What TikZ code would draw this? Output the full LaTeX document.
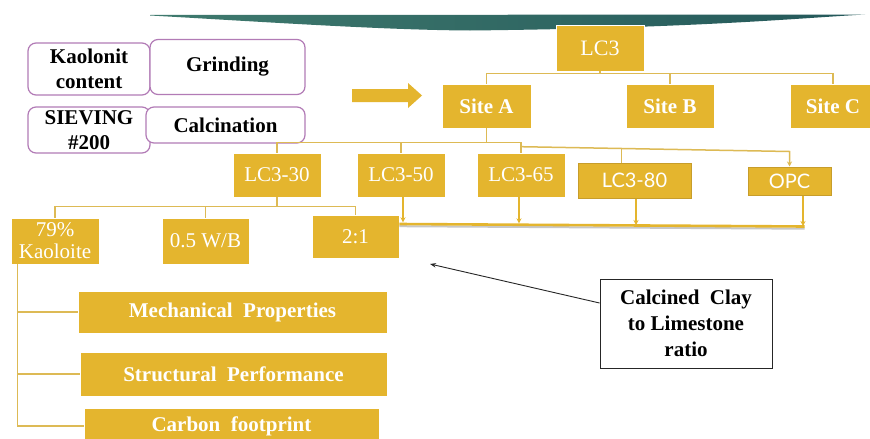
\documentclass[tikz,border=0pt]{standalone}
\usepackage{fontspec}
\setmainfont{Liberation Serif}
\newfontfamily\gillf{Lato}
\usetikzlibrary{calc,arrows.meta}
\definecolor{gold}{HTML}{E4B52E}
\definecolor{goldline}{HTML}{DDBA55}
\definecolor{goldborder}{HTML}{C79D2B}
\definecolor{tealL}{HTML}{3F7A6E}
\definecolor{tealD}{HTML}{24585A}
\definecolor{purp}{HTML}{B27BB6}
\tikzset{
  ybox/.style={fill=gold, draw=white, line width=0.6pt, text=white, inner sep=0pt, align=center, font=\fontsize{21}{22}\selectfont},
  ybold/.style={ybox, font=\bfseries\fontsize{21}{22}\selectfont},
  ysans/.style={ybox, draw=goldborder, line width=1pt, font=\gillf\fontsize{20}{22}\selectfont},
  pbox/.style={rounded corners=8pt, draw=purp, line width=1.2pt, fill=white, inner sep=0pt, align=center, font=\bfseries\fontsize{21}{25}\selectfont},
  conn/.style={draw=goldline, line width=1.5pt},
  carr/.style={draw=gold, line width=1.1pt, -{Stealth[length=5pt,width=5pt]}},
  callbox/.style={draw=black!85, line width=0.9pt, fill=white, inner sep=0pt, align=center, font=\bfseries\fontsize{21}{26}\selectfont}
}
\begin{document}
\begin{tikzpicture}[x=1pt,y=-1pt]
\useasboundingbox (0,0) rectangle (870,439);
\fill[white] (0,0) rectangle (870,439);
% swoosh
\shade[left color=tealL, right color=tealD] (150,15) -- (865,14.5)
  .. controls (800,18) and (700,28) .. (470,30.5)
  .. controls (380,30) and (250,21) .. (150,15.5) -- cycle;
% left purple boxes
\node[pbox, minimum width=122pt, minimum height=52pt] (kc) at (89,69) {Kaolonit\\content};
\node[pbox, minimum width=155pt, minimum height=55pt] (grind) at (227.5,67) {Grinding};
\node[pbox, minimum width=122pt, minimum height=46pt] (siev) at (89,130) {SIEVING\\\#200};
\node[pbox, minimum width=159pt, minimum height=36pt] (calc) at (225.5,125) {Calcination};
% block arrow
\fill[gold] (352,89) -- (408,89) -- (408,83) -- (422,95.5) -- (408,108) -- (408,102) -- (352,102) -- cycle;
% tree nodes
\node[ybox, minimum width=88pt, minimum height=46pt, font=\fontsize{22}{24}\selectfont] (lc3) at (600,48) {LC3};
\node[ybold, minimum width=89pt, minimum height=44pt] (siteA) at (486.5,106) {Site A};
\node[ybold, minimum width=88pt, minimum height=44pt] (siteB) at (670,106) {Site B};
\node[ybold, minimum width=86pt, minimum height=44pt] (siteC) at (833,106) {Site C};
\node[ybox, minimum width=88pt, minimum height=44pt] (lc330) at (277,175) {LC3-30};
\node[ybox, minimum width=88pt, minimum height=44pt] (lc350) at (401,175) {LC3-50};
\node[ybox, minimum width=88pt, minimum height=44pt] (lc365) at (521,175) {LC3-65};
\node[ysans, minimum width=113pt, minimum height=35pt] (lc380) at (634.5,180.5) {LC3-80};
\node[ysans, minimum width=83pt, minimum height=28pt] (opc) at (789.5,181) {OPC};
\node[ybox, minimum width=88pt, minimum height=46pt] (kao) at (55,241) {79\%\\Kaoloite};
\node[ybox, minimum width=87pt, minimum height=46pt] (wb) at (205.5,241) {0.5 W/B};
\node[ybox, minimum width=87pt, minimum height=43pt] (r21) at (355.5,236.5) {2:1};
\node[ybold, minimum width=309pt, minimum height=42pt] (mech) at (232.5,312) {Mechanical\ \ Properties};
\node[ybold, minimum width=307pt, minimum height=44pt] (struct) at (233.5,374) {Structural\ \ Performance};
\node[ybold, minimum width=295pt, minimum height=36pt] (carbon) at (231.5,426) {Carbon\ \ footprint};
\node[callbox, minimum width=172pt, minimum height=89pt] (callout) at (686,323.5) {Calcined\ \ Clay\\to Limestone\\ratio};
% connectors LC3 -> sites
\draw[conn] (lc3.south) |- ($(siteA.north)+(0,-10)$) -- (siteA.north);
\draw[conn] (lc3.south) |- ($(siteB.north)+(0,-10)$) -- (siteB.north);
\draw[conn] (lc3.south) |- ($(siteC.north)+(0,-10)$) -- (siteC.north);
% Site A -> mixes
\draw[conn] (siteA.south) |- ($(lc330.north)+(0,-10)$) -- (lc330.north);
\draw[conn] (siteA.south) |- ($(lc350.north)+(0,-10)$) -- (lc350.north);
\draw[conn] (siteA.south) |- ($(lc365.north)+(0,-10)$) -- (lc365.north);
\draw[conn, -{Stealth[length=5pt,width=5pt]}] ($(lc365.north)+(0,-6)$) -- ($(opc.north)+(0,-15)$) -- (opc.north);
\draw[conn] ($(lc380.north)+(-13,0)$) -- ++(0,-14.5);
% bottom bar
\draw[black!22, line width=2pt] ($(r21.east)+(0,-10.3)$) -- ($(opc.south)+(15,33.2)$);
\draw[gold, line width=2.6pt] ($(r21.east)+(0,-12.5)$) -- ($(opc.south)+(15,31)$);
\draw[carr] ($(lc350.south)+(2,0)$) -- ++(0,25);
\draw[carr] ($(lc365.south)+(-2,0)$) -- ++(0,26);
\draw[carr] ($(lc380.south)+(1.5,0)$) -- ++(0,26.5);
\draw[carr] ($(opc.south)+(13.5,0)$) -- ++(0,30.5);
% LC3-30 -> children
\draw[conn] (lc330.south) |- ($(kao.north)+(0,-11)$) -- (kao.north);
\draw[conn] (lc330.south) |- ($(wb.north)+(0,-11)$) -- (wb.north);
\draw[conn] (lc330.south) |- ($(r21.north)+(0,-8)$) -- (r21.north);
% 79% -> properties
\draw[conn] ($(kao.south west)+(7,0)$) |- (mech.west);
\draw[conn] ($(kao.south west)+(7,0)$) |- (struct.west);
\draw[conn] ($(kao.south west)+(7,0)$) |- (carbon.west);
% callout arrow
\coordinate (tip) at (430,264);
\draw[black!85, line width=0.9pt, -{Stealth[length=6pt,width=4.5pt]}] ($(callout.west)+(0,-20.5)$) -- (tip);
\end{tikzpicture}
\end{document}
